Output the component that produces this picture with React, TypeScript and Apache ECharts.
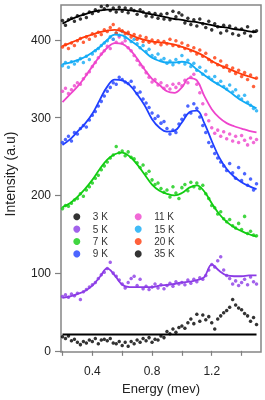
import { useEffect, useRef } from "react";
import * as echarts from "echarts";

const ENERGY = [
  0.2, 0.22, 0.24, 0.26, 0.28, 0.3, 0.32, 0.34, 0.36, 0.38,
  0.4, 0.42, 0.44, 0.46, 0.48, 0.5, 0.52, 0.54, 0.56, 0.58,
  0.6, 0.62, 0.64, 0.66, 0.68, 0.7, 0.72, 0.74, 0.76, 0.78,
  0.8, 0.82, 0.84, 0.86, 0.88, 0.9, 0.92, 0.94, 0.96, 0.98,
  1.0, 1.02, 1.04, 1.06, 1.08, 1.1, 1.12, 1.14, 1.16, 1.18,
  1.2, 1.22, 1.24, 1.26, 1.28, 1.3, 1.32, 1.34, 1.36, 1.38,
  1.4, 1.42, 1.44, 1.46, 1.48, 1.5,
];

const FIT_ENERGY = [
  0.2, 0.25, 0.3, 0.35, 0.4, 0.45, 0.5, 0.55, 0.6, 0.65, 0.7, 0.75, 0.8, 0.85,
  0.9, 0.95, 1.0, 1.05, 1.1, 1.15, 1.2, 1.25, 1.3, 1.35, 1.4, 1.45, 1.5,
];

const LABELS = ["3 K", "5 K", "7 K", "9 K", "11 K", "15 K", "20 K", "35 K"];
const COLORS = ["#000000", "#8b3be6", "#11cc11", "#1f3fff", "#ee44cc", "#11aaf5", "#ff3a0a", "#000000"];

const P3 = [18, 16, 19, 13, 15, 11, 8, 12, 10, 14, 12, 16, 9, 14, 15, 13, 16, 10, 9, 12, 7, 11, 6, 12, 9, 14, 11, 16, 13, 17, 11, 15, 14, 19, 17, 25, 22, 28, 24, 30, 32, 29, 36, 41, 35, 47, 38, 46, 40, 44, 36, 28, 41, 45, 49, 52, 56, 66, 59, 55, 53, 48, 45, 38, 43, 34];
const P5 = [70, 72, 69, 73, 71, 74, 66, 76, 79, 82, 85, 88, 93, 98, 101, 106, 114, 100, 96, 91, 86, 81, 88, 93, 96, 84, 92, 80, 83, 79, 82, 86, 81, 85, 80, 84, 87, 83, 89, 86, 88, 85, 91, 87, 92, 89, 94, 92, 97, 104, 111, 108, 116, 121, 104, 97, 93, 86, 90, 84, 88, 92, 85, 95, 89, 86];
const P7 = [183, 187, 186, 190, 194, 196, 202, 199, 207, 211, 216, 222, 226, 233, 238, 243, 248, 252, 263, 255, 257, 251, 256, 249, 247, 242, 236, 239, 228, 231, 220, 214, 216, 209, 204, 207, 198, 211, 203, 196, 210, 214, 206, 217, 211, 216, 209, 213, 202, 196, 187, 184, 176, 179, 170, 166, 169, 161, 158, 164, 156, 173, 151, 154, 149, 148];
const P9 = [268, 272, 276, 270, 281, 279, 286, 290, 288, 297, 303, 308, 315, 321, 328, 334, 339, 345, 343, 352, 349, 346, 344, 347, 339, 331, 333, 324, 319, 313, 306, 299, 302, 293, 295, 286, 279, 284, 281, 292, 298, 303, 315, 306, 318, 312, 301, 290, 281, 268, 263, 254, 248, 243, 238, 232, 241, 229, 222, 236, 219, 228, 213, 221, 207, 215];
const P11 = [334, 338, 331, 336, 341, 345, 343, 350, 356, 359, 366, 371, 377, 382, 386, 392, 389, 401, 397, 404, 396, 399, 390, 386, 380, 374, 368, 365, 358, 352, 346, 349, 342, 345, 338, 341, 337, 343, 339, 344, 341, 348, 345, 352, 356, 343, 332, 318, 304, 296, 287, 280, 284, 276, 282, 273, 279, 270, 276, 268, 277, 271, 265, 274, 268, 272];
const P15 = [367, 371, 365, 372, 369, 373, 376, 371, 379, 375, 382, 386, 389, 393, 396, 399, 404, 401, 409, 406, 411, 403, 408, 398, 401, 395, 390, 393, 385, 388, 380, 377, 382, 374, 376, 370, 373, 368, 375, 371, 380, 369, 374, 366, 370, 361, 365, 356, 360, 352, 349, 353, 344, 347, 340, 337, 342, 333, 336, 328, 324, 329, 320, 316, 312, 309];
const P20 = [391, 394, 389, 396, 393, 399, 402, 397, 404, 401, 408, 405, 410, 407, 413, 411, 416, 420, 409, 414, 412, 408, 410, 404, 407, 401, 405, 398, 403, 397, 400, 396, 399, 394, 398, 395, 401, 393, 399, 392, 396, 389, 393, 386, 390, 382, 387, 379, 383, 375, 372, 377, 368, 373, 365, 367, 360, 364, 357, 361, 353, 358, 349, 355, 340, 351];
const P35 = [425, 419, 426, 428, 424, 431, 427, 433, 429, 436, 434, 439, 437, 443, 440, 444, 438, 441, 436, 442, 437, 441, 435, 440, 438, 433, 439, 436, 431, 435, 430, 434, 428, 433, 427, 434, 426, 437, 430, 435, 432, 422, 428, 420, 426, 418, 427, 421, 416, 424, 413, 421, 417, 409, 419, 412, 418, 408, 415, 406, 414, 409, 417, 405, 411, 412];

const F3 = [21, 21, 21, 21, 21, 21, 21, 21, 21, 21, 21, 21, 21, 21, 21, 21, 21, 21, 21, 21, 21, 21, 21, 21, 21, 21, 21];
const F5 = [68, 70, 73, 77, 84, 95, 106, 97, 85, 82, 82, 82, 82, 84, 85, 86, 88, 89, 91, 95, 111, 103, 97, 96, 96, 97, 97];
const F7 = [185, 190, 198, 208, 220, 234, 246, 253, 255, 250, 240, 227, 214, 206, 202, 200, 203, 210, 213, 205, 190, 176, 166, 159, 154, 150, 147];
const F9 = [265, 272, 282, 292, 305, 323, 340, 349, 348, 342, 330, 316, 298, 287, 282, 283, 294, 307, 309, 293, 270, 249, 234, 224, 217, 212, 208];
const F11 = [320, 330, 340, 352, 366, 379, 390, 396, 395, 388, 376, 362, 350, 342, 334, 332, 339, 351, 348, 328, 311, 300, 293, 289, 286, 283, 281];
const F15 = [369, 371, 374, 378, 384, 391, 400, 407, 406, 400, 393, 385, 377, 373, 371, 371, 372, 370, 362, 355, 348, 342, 336, 329, 322, 317, 312];
const F20 = [392, 396, 400, 404, 407, 410, 412, 413, 411, 407, 403, 400, 398, 397, 396, 394, 391, 388, 384, 379, 373, 368, 364, 360, 356, 353, 350];
const F35 = [421, 426, 430, 433, 436, 438, 439, 439, 439, 438, 437, 435, 433, 431, 429, 427, 426, 424, 423, 421, 419, 417, 416, 414, 413, 411, 410];

const POINTS = [P3, P5, P7, P9, P11, P15, P20, P35];
const FITS = [F3, F5, F7, F9, F11, F15, F20, F35];

const X_TICKS = [0.2, 0.4, 0.6, 0.8, 1.0, 1.2, 1.4];
const X_LABELS = [0.4, 0.8, 1.2];
const Y_TICKS = [0, 100, 200, 300, 400];

const FONT = "'Liberation Sans', Arial, Helvetica, sans-serif";

export default function App() {
  const ref = useRef<HTMLDivElement>(null);
  useEffect(() => {
    const chart = echarts.init(ref.current!, null, { renderer: "svg" });
    const series: any[] = [];
    LABELS.forEach((name, k) => {
      series.push({
        type: "scatter",
        name,
        data: ENERGY.map((e, i) => [e, POINTS[k][i]]),
        symbolSize: 3.5,
        itemStyle: { color: COLORS[k] },
        z: 2,
      });
      series.push({
        type: "line",
        name: name + " fit",
        data: FIT_ENERGY.map((e, i) => [e, FITS[k][i]]),
        smooth: 0.4,
        showSymbol: false,
        symbol: "none",
        lineStyle: { color: COLORS[k], width: 1.8 },
        itemStyle: { color: COLORS[k] },
        z: 3,
      });
    });
    const legendBase = {
      orient: "vertical",
      top: 210.7,
      padding: 0,
      itemWidth: 22,
      itemHeight: 7,
      itemGap: 0.4,
      icon: "circle",
      selectedMode: false,
      textStyle: { fontSize: 10, color: "#333", fontFamily: FONT, lineHeight: 12 },
    };
    chart.setOption({
      animation: false,
      textStyle: { fontFamily: FONT },
      grid: {
        left: 61,
        right: 4,
        top: 5,
        bottom: 45,
        show: true,
        borderColor: "#858585",
        borderWidth: 1.5,
        backgroundColor: "transparent",
      },
      legend: [
        { ...legendBase, left: 73.3, data: LABELS.slice(0, 4) },
        { ...legendBase, left: 134.7, data: LABELS.slice(4) },
      ],
      xAxis: {
        type: "value",
        min: 0.19,
        max: 1.53,
        name: "Energy (mev)",
        nameLocation: "middle",
        nameGap: 30,
        nameTextStyle: { fontSize: 13, color: "#222", fontFamily: FONT },
        axisLine: { show: false },
        splitLine: { show: false },
        axisTick: {
          show: true,
          inside: false,
          length: 5,
          customValues: X_TICKS,
          lineStyle: { color: "#808080", width: 1.2 },
        },
        axisLabel: {
          customValues: X_LABELS,
          formatter: (v: number) => v.toFixed(1),
          fontSize: 12,
          color: "#222",
          margin: 13,
          fontFamily: FONT,
        },
      },
      yAxis: {
        type: "value",
        min: -1.5,
        max: 445,
        axisLine: { show: false },
        splitLine: { show: false },
        axisTick: {
          show: true,
          inside: false,
          length: 6,
          customValues: Y_TICKS,
          lineStyle: { color: "#808080", width: 1.2 },
        },
        axisLabel: {
          customValues: Y_TICKS,
          fontSize: 12,
          color: "#222",
          margin: 10,
          fontFamily: FONT,
        },
      },
      graphic: [
        {
          type: "text",
          x: 9.5,
          y: 174,
          rotation: Math.PI / 2,
          style: {
            text: "Intensity (a.u)",
            fontSize: 14,
            fontFamily: FONT,
            fill: "#222",
            align: "center",
            verticalAlign: "middle",
          },
        },
      ],
      series,
    });
    return () => chart.dispose();
  }, []);
  return (
    <div
      ref={ref}
      style={{ position: "fixed", left: 0, top: 0, width: 265, height: 400 }}
    />
  );
}
